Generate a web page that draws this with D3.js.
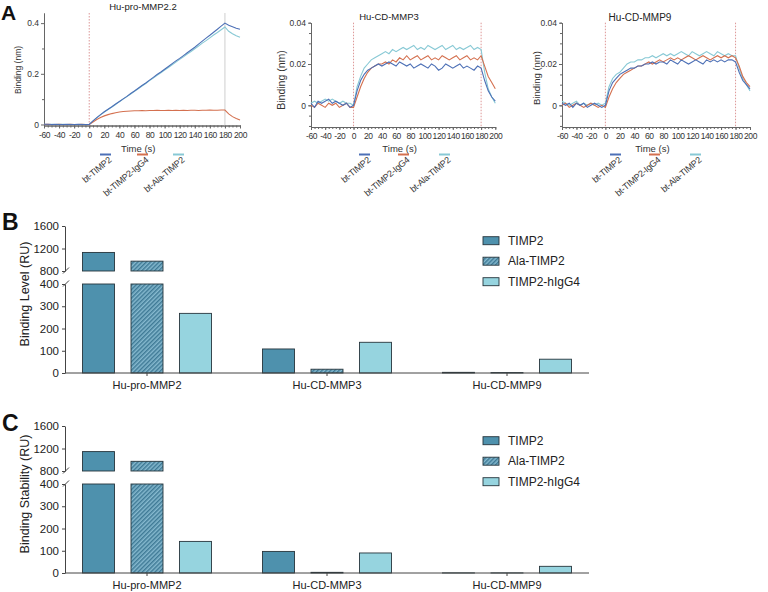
<!DOCTYPE html>
<html><head><meta charset="utf-8">
<script src="https://cdn.jsdelivr.net/npm/d3@7"></script>
<style>body{margin:0;background:#fff}svg{display:block;font-family:"Liberation Sans",Arial,Helvetica,sans-serif}</style>
</head><body><svg id="c" width="768" height="592"></svg>
<script>
// ---------------- DATA ----------------
const times = d3.range(-60, 201, 5); // sampling times (s)
const sensorSeries = ["bt-TIMP2", "bt-TIMP2-IgG4", "bt-Ala-TIMP2"];
const timeTicks = [-60, -40, -20, 0, 20, 40, 60, 80, 100, 120, 140, 160, 180, 200];

// Hu-pro-MMP2.2 (nm)
const mmp2_TIMP2 = [0.001,0.001,0,0.001,0,0,0.001,0,0,0.001,0,0,0,
 .014,.027,.039,.050,.060,.070,.081,.091,.101,.111,.122,.132,
 .143,.154,.164,.175,.186,.197,.207,.218,.229,.240,.251,.261,
 .272,.283,.294,.305,.317,.329,.341,.352,.364,.376,.388,.400,
 .392,.386,.380,.376];
const mmp2_IgG4 = [0,0.001,0,0,0.001,0,0,0.001,0,0,0.001,0,0,
 .010,.020,.028,.034,.039,.043,.046,.049,.051,.052,.053,.054,
 .054,.055,.054,.055,.055,.056,.055,.055,.056,.055,.056,.055,
 .056,.055,.056,.056,.055,.056,.056,.057,.056,.056,.057,.057,
 .042,.031,.024,.018];
const mmp2_Ala = [0.001,0,0.001,0,0.001,0.001,0,0.001,0,0,0.001,0,0,
 .013,.026,.038,.049,.059,.069,.079,.090,.100,.110,.120,.131,
 .141,.152,.162,.173,.183,.194,.204,.215,.225,.236,.246,.257,
 .267,.278,.288,.299,.310,.321,.331,.342,.353,.363,.374,.385,
 .368,.358,.350,.344];

// Hu-CD-MMP3 (nm)
const mmp3_TIMP2 = [0.001,-0.001,0.002,0.001,0.002,0.003,0.001,0.002,0.001,0,0.001,-0.001,0,
 .007,.012,.015,.017,.018,.019,.020,.019,.020,.021,.020,.019,
 .021,.020,.019,.020,.018,.019,.020,.019,.018,.020,.019,.017,
 .018,.020,.019,.018,.019,.020,.018,.019,.018,.017,.019,.018,
 .012,.007,.004,.002];
const mmp3_IgG4 = [0,-0.001,0.001,0,-0.001,0.001,0,0.001,-0.001,0,0.001,-0.001,-0.001,
 .004,.009,.013,.016,.018,.019,.020,.020,.021,.020,.022,.021,
 .023,.022,.024,.022,.023,.024,.022,.023,.024,.022,.023,.022,
 .024,.023,.022,.023,.024,.022,.023,.024,.022,.023,.022,.024,
 .019,.014,.011,.008];
const mmp3_Ala = [0.001,0.002,0.001,0.002,0.003,0.002,0.003,0.002,0.001,0.002,0.001,0.001,0,
 .009,.014,.018,.020,.022,.023,.024,.025,.026,.025,.027,.026,
 .027,.028,.027,.028,.029,.027,.028,.027,.029,.028,.027,.028,
 .029,.027,.028,.029,.027,.028,.027,.028,.029,.027,.028,.027,
 .016,.008,.004,.001];

// Hu-CD-MMP9 (nm)
const mmp9_TIMP2 = [0.001,0,0.001,-0.001,0.001,0,0.001,-0.001,0,0.001,0,-0.001,0,
 .007,.011,.013,.015,.016,.017,.018,.018,.019,.019,.020,.020,
 .021,.020,.021,.021,.020,.022,.021,.020,.022,.021,.020,.021,
 .022,.021,.020,.022,.021,.022,.021,.022,.021,.022,.022,.021,
 .016,.012,.010,.008];
const mmp9_IgG4 = [0,0.001,-0.001,0,0.001,0,-0.001,0,0.001,0,-0.001,0,-0.001,
 .004,.008,.011,.013,.015,.016,.017,.018,.019,.019,.020,.021,
 .020,.021,.022,.021,.022,.023,.022,.023,.022,.023,.024,.023,
 .022,.023,.024,.023,.022,.023,.024,.023,.024,.023,.024,.023,
 .019,.014,.011,.009];
const mmp9_Ala = [0.002,0.001,0,0.001,0.002,0,0.001,0,0.001,0,0.001,0,0.001,
 .009,.013,.015,.016,.018,.020,.021,.021,.022,.022,.023,.023,
 .024,.023,.024,.025,.024,.025,.024,.025,.026,.025,.024,.026,
 .025,.024,.025,.026,.025,.024,.026,.025,.024,.025,.024,.024,
 .018,.013,.010,.007];

// Bar panels (RU)
const categories = ["Hu-pro-MMP2", "Hu-CD-MMP3", "Hu-CD-MMP9"];
const barSeries = ["TIMP2", "Ala-TIMP2", "TIMP2-hIgG4"];
const level_TIMP2 = [1130, 108, 3];
const level_Ala   = [975, 17, 2];
const level_IgG4  = [268, 138, 62];
const stab_TIMP2  = [1145, 97, 0.5];
const stab_Ala    = [972, 3, 0.5];
const stab_IgG4   = [142, 90, 30];
const lowTicks = [0, 100, 200, 300, 400];
const highTicks = [800, 1200, 1600];

// ---------------- STYLE ----------------
const lineColors = ["#4d70b6", "#d4704f", "#88c9d5"];
const barFill = ["#4e91ad", "url(#hatch)", "#96d4df"];
const barStroke = "#26353c";
const FONT = '"Liberation Sans",Arial,sans-serif';

const svg = d3.select("#c");
const defs = svg.append("defs");
const pat = defs.append("pattern").attr("id", "hatch").attr("patternUnits", "userSpaceOnUse")
  .attr("width", 3).attr("height", 3).attr("patternTransform", "rotate(45)");
pat.append("rect").attr("width", 3).attr("height", 3).attr("fill", "#86b9cf");
pat.append("line").attr("x1", 0.75).attr("y1", 0).attr("x2", 0.75).attr("y2", 3)
  .attr("stroke", "#3a7692").attr("stroke-width", 1.4);

// panel letters
[["A", 1, 20, 21], ["B", 2, 230, 23], ["C", 2, 431, 23]].forEach(([t, x, y, s]) =>
  svg.append("text").attr("x", x).attr("y", y).attr("font-size", s).attr("font-weight", "bold").attr("fill", "#111").text(t));

// ---------------- PANEL A ----------------
const subplots = [
  { title: "Hu-pro-MMP2.2", data: [mmp2_TIMP2, mmp2_IgG4, mmp2_Ala], x0: 44, x1: 240, yTop: 13, yBottom: 125.5,
    yDom: [-0.004, 0.44], yTicks: [0, 0.2, 0.4], yMinor: [0.1, 0.3], fmt: d => d === 0 ? "0" : d.toFixed(1),
    titleX: 143, titleY: 9.5, titleSize: 9.5, yTitleX: 18, yTitleY: 70, yTitleSize: 8.5, endLine: "#c8c8c8", endDash: null,
    legendX: [100, 137, 173], tick: 8.5 },
  { title: "Hu-CD-MMP3", data: [mmp3_TIMP2, mmp3_IgG4, mmp3_Ala], x0: 311, x1: 495.3, yTop: 22.7, yBottom: 127,
    yDom: [-0.0105, 0.04], yTicks: [0, 0.02, 0.04], yMinor: d3.range(-0.01, 0.0401, 0.005), fmt: d => d === 0 ? "0" : d.toFixed(2),
    titleX: 389, titleY: 20, titleSize: 9.5, yTitleX: 281, yTitleY: 80, yTitleSize: 10.5, endLine: "#d98b8b", endDash: "1.5,1.5",
    legendX: [359, 398, 439], tick: 8.5 },
  { title: "Hu-CD-MMP9", data: [mmp9_TIMP2, mmp9_IgG4, mmp9_Ala], x0: 562, x1: 750, yTop: 22.7, yBottom: 127,
    yDom: [-0.0105, 0.04], yTicks: [0, 0.02, 0.04], yMinor: d3.range(-0.01, 0.0401, 0.005), fmt: d => d === 0 ? "0" : d.toFixed(2),
    titleX: 640, titleY: 21, titleSize: 10, yTitleX: 537, yTitleY: 78, yTitleSize: 9.5, endLine: "#d98b8b", endDash: "1.5,1.5",
    legendX: [610, 649, 690], tick: 8.5 }
];

subplots.forEach(sp => {
  const g = svg.append("g");
  const x = d3.scaleLinear([-60, 200], [sp.x0, sp.x1]);
  const y = d3.scaleLinear(sp.yDom, [sp.yBottom, sp.yTop]);
  const tx = g.append("g").attr("transform", `translate(0,${sp.yBottom})`)
    .call(d3.axisBottom(x).tickValues(timeTicks).tickSize(3).tickSizeOuter(0).tickPadding(3).tickFormat(d => String(d)));
  g.append("g").attr("transform", `translate(0,${sp.yBottom})`)
    .call(d3.axisBottom(x).tickValues(d3.range(-60, 201, 5)).tickSize(2).tickSizeOuter(0).tickFormat(""));
  g.append("g").attr("transform", `translate(${sp.x0},0)`)
    .call(d3.axisLeft(y).tickValues(sp.yTicks).tickSize(3).tickSizeOuter(0).tickPadding(2).tickFormat(sp.fmt));
  g.append("g").attr("transform", `translate(${sp.x0},0)`)
    .call(d3.axisLeft(y).tickValues(sp.yMinor).tickSize(2).tickSizeOuter(0).tickFormat(""));
  g.selectAll(".domain").attr("stroke", "#666");
  g.selectAll(".tick line").attr("stroke", "#666");
  g.selectAll(".tick text").attr("font-size", sp.tick).attr("fill", "#333").attr("font-family", FONT);
  tx.selectAll(".tick text").attr("letter-spacing", "-0.4");

  // reference lines
  g.append("line").attr("x1", x(0)).attr("x2", x(0)).attr("y1", sp.yTop).attr("y2", sp.yBottom)
    .attr("stroke", "#d98b8b").attr("stroke-dasharray", "1.5,1.5").attr("stroke-width", 0.9);
  g.append("line").attr("x1", x(180)).attr("x2", x(180)).attr("y1", sp.yTop).attr("y2", sp.yBottom)
    .attr("stroke", sp.endLine).attr("stroke-dasharray", sp.endDash).attr("stroke-width", 0.9);

  const line = d3.line().x((d, i) => x(times[i])).y(d => y(d));
  [2, 1, 0].forEach(k => g.append("path").datum(sp.data[k]).attr("d", line)
    .attr("fill", "none").attr("stroke", lineColors[k]).attr("stroke-width", 1.1));

  g.append("text").attr("x", sp.titleX).attr("y", sp.titleY).attr("text-anchor", "middle")
    .attr("font-size", sp.titleSize).attr("fill", "#222").text(sp.title);
  g.append("text").attr("transform", `translate(${sp.yTitleX},${sp.yTitleY}) rotate(-90)`).attr("text-anchor", "middle")
    .attr("dy", "0.35em").attr("font-size", sp.yTitleSize).attr("fill", "#333").text("Binding (nm)");
  g.append("text").attr("x", x(65)).attr("y", 152).attr("text-anchor", "middle")
    .attr("font-size", 9.5).attr("fill", "#333").text("Time (s)");

  sensorSeries.forEach((name, k) => {
    const lx = sp.legendX[k];
    g.append("line").attr("x1", lx).attr("x2", lx + 11).attr("y1", 154.5).attr("y2", 154.5)
      .attr("stroke", lineColors[k]).attr("stroke-width", 2);
    g.append("text").attr("transform", `translate(${lx + 12},${161}) rotate(-40)`).attr("text-anchor", "end")
      .attr("font-size", 9).attr("fill", "#333").attr("letter-spacing", "-0.3").text(name);
  });
});

// ---------------- PANELS B, C ----------------
function barPanel(off, yTitle, vals) {
  const g = svg.append("g").attr("transform", `translate(0,${off})`);
  const x0 = d3.scaleBand(categories, [57, 597]);
  const x1 = d3.scaleBand(barSeries, [0, x0.bandwidth()]).paddingInner(0.34).paddingOuter(0.526);
  const yLow = d3.scaleLinear([0, 400], [373, 284]);
  const yHigh = d3.scaleLinear([800, 1600], [271, 226]);
  const axisX = 65, axisEnd = 589;

  // y axes (broken)
  const aL = g.append("g").attr("transform", `translate(${axisX},0)`)
    .call(d3.axisLeft(yLow).tickValues(lowTicks).tickSize(3).tickSizeOuter(0).tickPadding(3).tickFormat(d => String(d)));
  const aH = g.append("g").attr("transform", `translate(${axisX},0)`)
    .call(d3.axisLeft(yHigh).tickValues(highTicks).tickSize(3).tickSizeOuter(0).tickPadding(3).tickFormat(d => String(d)));
  [aL, aH].forEach(a => {
    a.selectAll(".domain").attr("stroke", "#444");
    a.selectAll(".tick line").attr("stroke", "#444");
    a.selectAll(".tick text").attr("font-size", 11.5).attr("fill", "#222").attr("font-family", FONT);
  });
  // break slashes
  [yHigh(800), yLow(400)].forEach(yy => g.append("line")
    .attr("x1", axisX - 2).attr("y1", yy + 2.5).attr("x2", axisX + 4).attr("y2", yy - 3.5)
    .attr("stroke", "#444").attr("stroke-width", 1));

  // bars
  categories.forEach((c, i) => {
    barSeries.forEach((s, k) => {
      const v = vals[k][i];
      const bx = x0(c) + x1(s), bw = x1.bandwidth();
      const top = Math.min(v, 400);
      g.append("rect").attr("x", bx).attr("width", bw).attr("y", yLow(top)).attr("height", yLow(0) - yLow(top))
        .attr("fill", barFill[k]).attr("stroke", barStroke).attr("stroke-width", 0.9);
      if (v > 800) {
        g.append("rect").attr("x", bx).attr("width", bw).attr("y", yHigh(v)).attr("height", yHigh(800) - yHigh(v))
          .attr("fill", barFill[k]).attr("stroke", barStroke).attr("stroke-width", 0.9);
      }
    });
  });

  // x axis
  g.append("line").attr("x1", axisX).attr("x2", axisEnd).attr("y1", yLow(0)).attr("y2", yLow(0))
    .attr("stroke", "#444").attr("stroke-width", 1);
  categories.forEach(c => {
    const cx = x0(c) + x0.bandwidth() / 2;
    g.append("line").attr("x1", cx).attr("x2", cx).attr("y1", yLow(0)).attr("y2", yLow(0) + 3).attr("stroke", "#444");
    g.append("text").attr("x", cx).attr("y", yLow(0) + 16).attr("text-anchor", "middle")
      .attr("font-size", 11).attr("fill", "#222").text(c);
  });

  g.append("text").attr("transform", `translate(25,${294}) rotate(-90)`).attr("text-anchor", "middle")
    .attr("dy", "0.35em").attr("font-size", 12.5).attr("fill", "#222").text(yTitle);

  // legend
  barSeries.forEach((s, k) => {
    const cy = 240.7 + k * 20.5;
    g.append("rect").attr("x", 483).attr("y", cy - 4).attr("width", 16).attr("height", 8)
      .attr("fill", barFill[k]).attr("stroke", barStroke).attr("stroke-width", 0.9);
    g.append("text").attr("x", 508).attr("y", cy).attr("dy", "0.35em").attr("font-size", 12)
      .attr("fill", "#222").text(s);
  });
}
barPanel(0, "Binding Level (RU)", [level_TIMP2, level_Ala, level_IgG4]);
barPanel(200, "Binding Stability (RU)", [stab_TIMP2, stab_Ala, stab_IgG4]);
</script></body></html>
